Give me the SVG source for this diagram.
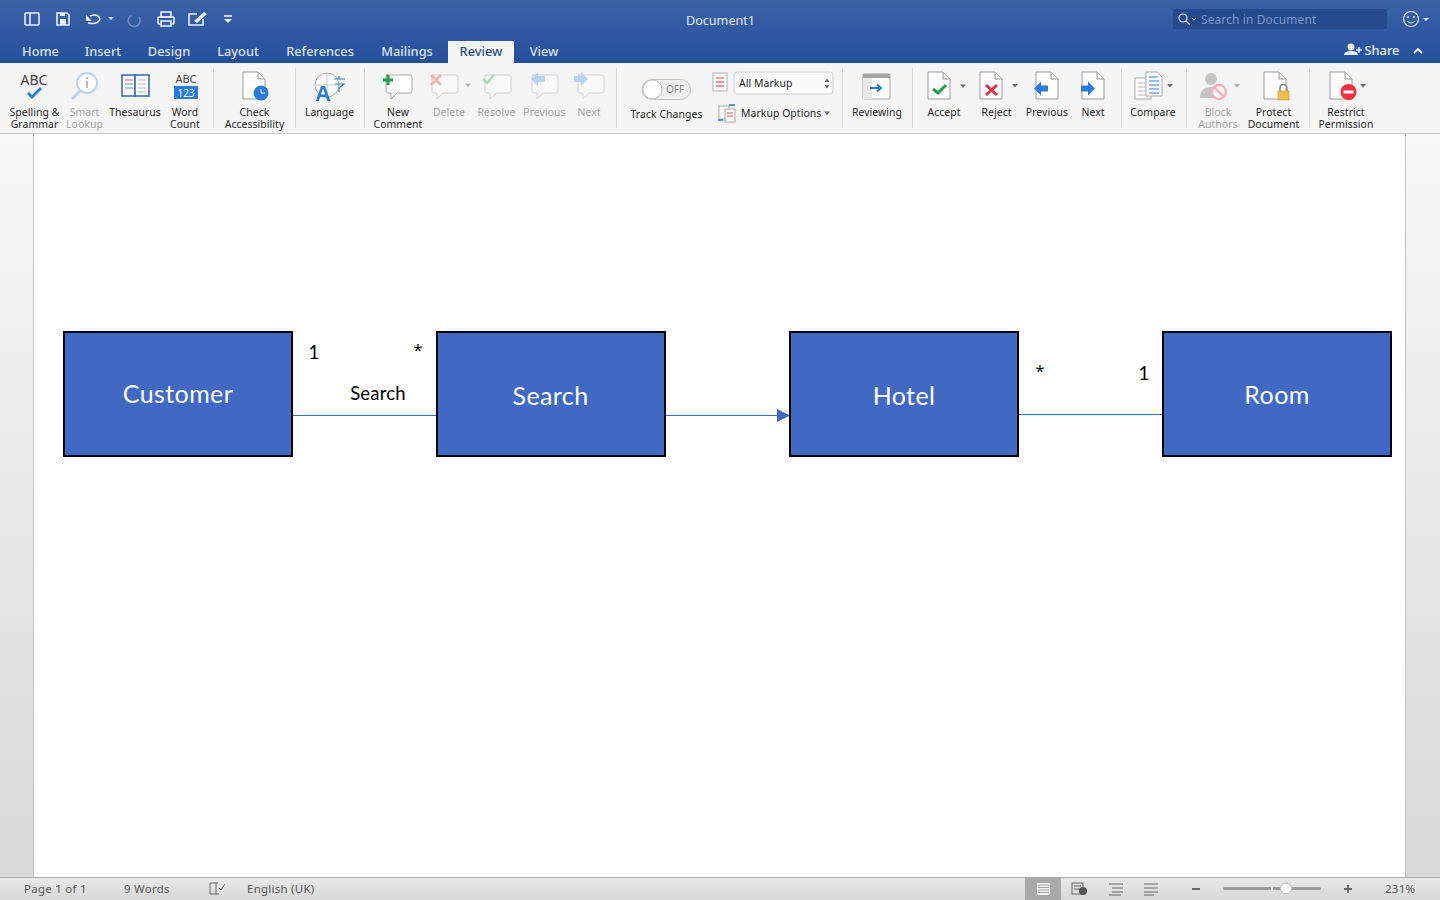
<svg xmlns="http://www.w3.org/2000/svg" width="1440" height="900" viewBox="0 0 1440 900">
<defs>
<linearGradient id="title" x1="0" y1="0" x2="0" y2="1"><stop offset="0" stop-color="#3a63a8"/><stop offset="1" stop-color="#264f9b"/></linearGradient>
<linearGradient id="status" x1="0" y1="0" x2="0" y2="1"><stop offset="0" stop-color="#e8e8e8"/><stop offset="1" stop-color="#d8d8d8"/></linearGradient>
<linearGradient id="side" x1="0" y1="0" x2="0" y2="1"><stop offset="0" stop-color="#f8f8f8"/><stop offset="1" stop-color="#d8d8d8"/></linearGradient>
<g id="page"><path d="M-11 -13.500H4L11 -6.500V13.500H-11Z" fill="#fff" stroke="#9a9a9a" stroke-width="1"/><path d="M4 -13.500V-6.500H11" fill="#f0f0f0" stroke="#9a9a9a" stroke-width="1"/></g>
<path id="bubble" d="M-13 -10H11Q13 -10 13 -8V6Q13 8 11 8H-2L-8 14V8H-11Q-13 8 -13 6V-8Q-13 -10 -11 -10Z" fill="#fff" stroke="#a8a8a8" stroke-width="1"/>
<path id="arrowR" d="M-7 -3H0V-7L7 0L0 7V3H-7Z"/>
<path id="arrowL" d="M7 -3H0V-7L-7 0L0 7V3H7Z"/>
<path id="caret" d="M-3 -1.500H3L0 2Z" fill="#6a6a6a"/>
</defs>
<style>
.rb{font-family:"Noto Sans","Open Sans","Liberation Sans",sans-serif;font-size:10.4px;letter-spacing:.08px;fill:#1f1f1f;text-anchor:middle}
.dis{fill:#a3a3a3}
.tab{font-family:"Noto Sans","Open Sans","Liberation Sans",sans-serif;font-size:12.8px;font-weight:500;fill:#d9e2f2;text-anchor:middle}
.st{font-family:"Noto Sans","Open Sans","Liberation Sans",sans-serif;font-size:11.4px;letter-spacing:.3px;fill:#555}
.box{fill:#4169c4;stroke:#000;stroke-width:2}
.nl{font-family:Lato,"Open Sans","Liberation Sans",sans-serif;font-size:25px;letter-spacing:.4px;fill:#fff;text-anchor:middle}
.lb{font-family:Lato,"Open Sans","Liberation Sans",sans-serif;font-size:18.5px;letter-spacing:.2px;fill:#000;text-anchor:middle}
.star{font-family:"Open Sans","Noto Sans","Liberation Sans",sans-serif;font-size:17px;fill:#000;text-anchor:middle}
.conn{stroke:#4169c4;stroke-width:1;fill:none}
.sep{stroke:#d8d8d8;stroke-width:1}
.ic{fill:none;stroke:#e8eefa;stroke-width:1.6}
</style>

<rect width="1440" height="900" fill="#fff"/>
<rect x="0" y="134" width="34" height="744" fill="url(#side)"/>
<rect x="1405" y="134" width="35" height="744" fill="url(#side)"/>
<path d="M33.500 134V878M1405.500 134V878" stroke="#c4c4c4" stroke-width="1"/>

<g id="titlebar">
<rect width="1440" height="63" fill="url(#title)"/>
<g class="ic">
<rect x="25" y="13" width="14" height="12" rx="1"/><path d="M30 13V25"/>
<path d="M57 13H67L69 15V25H57Z"/><rect x="60" y="19" width="6" height="6" fill="#e8eefa" stroke="none"/><rect x="60" y="13" width="5" height="3" fill="#e8eefa" stroke="none"/>
<path d="M88 23Q98 25 100 19Q98 13 90 16"/><path d="M86 15V21H92Z" fill="#e8eefa" stroke="none"/>
<path d="M132 15A6 6 0 1 0 139 17" stroke="#6f8cbf"/>
<rect x="161" y="12" width="10" height="5"/><rect x="158" y="17" width="16" height="7" rx="1"/><rect x="161" y="21" width="10" height="5" fill="#3a63a8"/>
<path d="M197 14H189V25H203V19"/><path d="M194 21L204 12L207 14L197 23Z" fill="#e8eefa" stroke="none"/>
<path d="M224 16H232"/><path d="M224 19H232L228 23Z" fill="#e8eefa" stroke="none"/>
</g>
<path d="M108 17H114L111 20Z" fill="#d6e0f2"/>
<text x="720.500" y="25" font-family="Noto Sans,Open Sans,sans-serif" font-size="12.600" fill="#e4ebf7" text-anchor="middle">Document1</text>
<rect x="1173" y="9" width="214" height="20" rx="2" fill="#244a8d"/>
<circle cx="1183" cy="18" r="4" fill="none" stroke="#dfe7f5" stroke-width="1.200"/><path d="M1186 21L1190 25" stroke="#dfe7f5" stroke-width="1.200"/><path d="M1192 18L1194 20L1196 18" fill="none" stroke="#dfe7f5"/>
<text x="1201" y="24" font-family="Noto Sans,Open Sans,sans-serif" font-size="11.800" letter-spacing=".2" fill="#7f9bc9">Search in Document</text>
<circle cx="1411" cy="19" r="7.500" fill="none" stroke="#dfe7f5" stroke-width="1.200"/><circle cx="1408" cy="17" r="1" fill="#dfe7f5"/><circle cx="1414" cy="17" r="1" fill="#dfe7f5"/><path d="M1407 21Q1411 25 1415 21" fill="none" stroke="#dfe7f5"/>
<path d="M1423 18H1429L1426 21Z" fill="#dfe7f5"/>
<rect x="448" y="41" width="66" height="22" fill="#f5f5f5"/>
<text class="tab" x="40.500" y="56">Home</text>
<text class="tab" x="103" y="56">Insert</text>
<text class="tab" x="169" y="56">Design</text>
<text class="tab" x="238" y="56">Layout</text>
<text class="tab" x="320" y="56">References</text>
<text class="tab" x="407" y="56">Mailings</text>
<text class="tab" x="481" y="56" style="fill:#28508f">Review</text>
<text class="tab" x="544" y="56">View</text>
<circle cx="1351" cy="47" r="3.500" fill="#e8eefa"/><path d="M1344 55Q1344 51 1351 51Q1358 51 1358 55Z" fill="#e8eefa"/><path d="M1356 50H1362M1359 47V53" stroke="#e8eefa" stroke-width="1.500"/>
<text class="tab" x="1382" y="55" style="fill:#e8eefa">Share</text>
<path d="M1414 53L1418 49L1422 53" fill="none" stroke="#e8eefa" stroke-width="1.800"/>
</g>

<g id="ribbon">
<rect y="63" width="1440" height="71" fill="#f5f5f5"/>
<path d="M0 133.500H1440" stroke="#c6c6c6"/>
<path class="sep" d="M213.500 68V128M295.500 68V128M364.500 68V128M616.500 68V128M842.500 68V128M912.500 68V128M1121.500 68V128M1186.500 68V128M1309.500 68V128"/>

<text x="34" y="85" text-anchor="middle" font-family="Noto Sans,sans-serif" font-size="14" fill="#444">ABC</text>
<path d="M28 93L32 97L41 88" fill="none" stroke="#2a7bdc" stroke-width="2.800"/>
<text class="rb" x="34.500" y="116">Spelling &amp;</text><text class="rb" x="34.500" y="128">Grammar</text>

<circle cx="87" cy="83" r="10" fill="#fff" stroke="#bcd3ec" stroke-width="2"/><path d="M80 91L72 99" stroke="#bcd3ec" stroke-width="3"/><rect x="86" y="81" width="2" height="7" fill="#bcbcbc"/><rect x="86" y="77" width="2" height="2" fill="#bcbcbc"/>
<text class="rb dis" x="84.500" y="116">Smart</text><text class="rb dis" x="84.500" y="128">Lookup</text>

<path d="M122 75H135V96H122Z" fill="#fff" stroke="#2c66b0" stroke-width="1.500"/><path d="M135 75H149V96H135Z" fill="#fff" stroke="#2c66b0" stroke-width="1.500"/>
<path d="M125 80H133" stroke="#e05050"/><path d="M125 84H133M125 88H133" stroke="#4a8adf"/><path d="M138 80H146M138 84H146M138 88H146M138 92H146" stroke="#b5b5b5"/>
<text class="rb" x="135" y="116">Thesaurus</text>

<text x="186" y="83" text-anchor="middle" font-family="Noto Sans,sans-serif" font-size="11" fill="#444">ABC</text>
<rect x="174" y="86" width="24" height="13" fill="#2a7bdc"/><text x="186" y="96.500" text-anchor="middle" font-family="Noto Sans,sans-serif" font-size="10" fill="#fff">123</text>
<text class="rb" x="185" y="116">Word</text><text class="rb" x="185" y="128">Count</text>

<use href="#page" x="254" y="85.500"/><circle cx="261" cy="93" r="7.500" fill="#2a7bdc"/><path d="M261 89V93H265" stroke="#fff" fill="none"/>
<text class="rb" x="254.500" y="116">Check</text><text class="rb" x="254.500" y="128">Accessibility</text>

<circle cx="327" cy="85" r="12" fill="#fff" stroke="#a8a8a8"/><path d="M315 85H339M327 73V97" stroke="#c8c8c8"/>
<text x="323" y="101" text-anchor="middle" font-family="Liberation Sans,sans-serif" font-size="22" font-weight="bold" fill="#2a7bdc">A</text>
<path d="M334 79H345M339 76V79M335 84H344L339 88V92" fill="none" stroke="#2a7bdc" stroke-width="1.200"/>
<text class="rb" x="329.500" y="116">Language</text>

<use href="#bubble" x="399" y="85"/><path d="M383 80H393M388 75V85" stroke="#1fa24a" stroke-width="3"/>
<text class="rb" x="398" y="116">New</text><text class="rb" x="398" y="128">Comment</text>

<g opacity="0.45"><use href="#bubble" x="445" y="85"/></g><path d="M431 75L441 85M441 75L431 85" stroke="#f0b0b0" stroke-width="2.500"/><use href="#caret" x="468" y="85" opacity="0.5"/>
<text class="rb dis" x="449" y="116">Delete</text>

<g opacity="0.45"><use href="#bubble" x="498" y="85"/></g><path d="M483 79L487 83L494 75" fill="none" stroke="#a8dcb8" stroke-width="2.500"/>
<text class="rb dis" x="496.500" y="116">Resolve</text>

<g opacity="0.45"><use href="#bubble" x="545" y="85"/></g><use href="#arrowL" x="538" y="79" fill="#b8d4f2"/>
<text class="rb dis" x="544.500" y="116">Previous</text>

<g opacity="0.45"><use href="#bubble" x="591" y="85"/></g><use href="#arrowR" x="581" y="79" fill="#b8d4f2"/>
<text class="rb dis" x="589" y="116">Next</text>

<rect x="642" y="79.500" width="48.500" height="20" rx="10" fill="#efefef" stroke="#c2c2c2"/>
<circle cx="652.500" cy="89.500" r="9.500" fill="#fff" stroke="#bdbdbd"/>
<text x="675" y="93" text-anchor="middle" font-family="Noto Sans,sans-serif" font-size="10" fill="#8a8a8a">OFF</text>
<text class="rb" x="666.500" y="117.500">Track Changes</text>

<rect x="713" y="73" width="14" height="18" fill="#fff" stroke="#b0b0b0"/><path d="M716 78H724M716 82H724M716 86H724" stroke="#d44"/>
<rect x="734" y="72" width="99" height="22" rx="3" fill="#fafafa" stroke="#d0d0d0"/>
<text class="rb" x="739" y="87" style="text-anchor:start">All Markup</text>
<path d="M824.500 82L827 78.500L829.500 82ZM824.500 85L827 88.500L829.500 85Z" fill="#666"/>
<rect x="719" y="106" width="10" height="13" fill="#fff" stroke="#a8a8a8"/><rect x="725" y="109" width="10" height="13" fill="#fff" stroke="#a8a8a8"/><path d="M727 113H733M727 116H733" stroke="#d44"/><path d="M729 105H735M718 120H723" stroke="#2a7bdc" stroke-width="1.500"/>
<text class="rb" x="741" y="117" style="text-anchor:start">Markup Options</text>
<use href="#caret" x="827" y="113"/>

<rect x="863" y="74" width="27" height="25" rx="1" fill="#fbfbfb" stroke="#a5a5a5"/><rect x="863" y="74" width="27" height="4" fill="#a5a5a5"/><rect x="863" y="78" width="9" height="21" fill="#e8e8e8"/>
<path d="M870 88H881M877 84.500L881 88L877 91.500" fill="none" stroke="#2a7bdc" stroke-width="2"/>
<text class="rb" x="877" y="116">Reviewing</text>

<use href="#page" x="939" y="85.500"/><path d="M933 89L938 93L946 85" fill="none" stroke="#1fa24a" stroke-width="3"/><use href="#caret" x="963" y="86"/>
<text class="rb" x="944" y="116">Accept</text>

<use href="#page" x="991" y="85.500"/><path d="M986 85L997 95M997 85L986 95" stroke="#dc3545" stroke-width="3"/><use href="#caret" x="1015" y="85.500"/>
<text class="rb" x="996.500" y="116">Reject</text>

<use href="#page" x="1047" y="85.500"/><use href="#arrowL" x="1041" y="88.500" fill="#2a7bdc"/>
<text class="rb" x="1047" y="116">Previous</text>

<use href="#page" x="1093" y="85.500"/><use href="#arrowR" x="1088" y="88.500" fill="#2a7bdc"/>
<text class="rb" x="1093" y="116">Next</text>

<rect x="1135" y="78" width="16" height="21" fill="#fff" stroke="#a8a8a8"/><path d="M1138 83H1148M1138 87H1148M1138 91H1148M1138 95H1148" stroke="#b5b5b5"/>
<path d="M1146 72H1157L1162 77V96H1146Z" fill="#fff" stroke="#a8a8a8"/><path d="M1149 77H1158M1149 81H1159M1149 85H1159M1149 89H1159M1149 93H1159" stroke="#2a7bdc"/>
<use href="#caret" x="1170" y="85.500"/>
<text class="rb" x="1153" y="116">Compare</text>

<circle cx="1211" cy="79" r="6" fill="#c4c4c4"/><path d="M1200 98Q1200 87 1211 87Q1222 87 1222 98Z" fill="#c4c4c4"/>
<circle cx="1219" cy="92" r="7" fill="#fff" stroke="#f2b4b8" stroke-width="2.500"/><path d="M1214 87L1224 97" stroke="#f2b4b8" stroke-width="2.500"/><use href="#caret" x="1237" y="85.500" opacity="0.5"/>
<text class="rb dis" x="1218" y="116">Block</text><text class="rb dis" x="1218" y="128">Authors</text>

<use href="#page" x="1275" y="85.500"/><rect x="1278" y="91" width="11" height="9" fill="#eac04a" stroke="#b08a20" stroke-width="0.500"/><path d="M1280 91V88A3.500 3.500 0 0 1 1287 88V91" fill="none" stroke="#8a8a8a" stroke-width="1.500"/>
<text class="rb" x="1273.500" y="116">Protect</text><text class="rb" x="1273.500" y="128">Document</text>

<use href="#page" x="1341" y="85.500"/><circle cx="1348.500" cy="92" r="8" fill="#ef2f3c"/><rect x="1343.500" y="90.500" width="10" height="3" fill="#fff"/><use href="#caret" x="1363" y="85.500"/>
<text class="rb" x="1346" y="116">Restrict</text><text class="rb" x="1346" y="128">Permission</text>
</g>

<g id="connectors">
<path class="conn" d="M293 415.500H437"/>
<path class="conn" d="M666 415.500H779"/>
<path d="M777 409L790 415.500L777 422Z" fill="#4169c4"/>
<path class="conn" d="M1019 414.500H1163"/>
</g>
<g id="customer"><rect class="box" x="64" y="332" width="228" height="124"/><text class="nl" x="178" y="403">Customer</text></g>
<g id="search"><rect class="box" x="437" y="332" width="228" height="124"/><text class="nl" x="550.500" y="405">Search</text></g>
<g id="hotel"><rect class="box" x="790" y="332" width="228" height="124"/><text class="nl" x="904" y="405">Hotel</text></g>
<g id="room"><rect class="box" x="1163" y="332" width="228" height="124"/><text class="nl" x="1277" y="404">Room</text></g>
<g id="labels">
<text class="lb" x="314" y="359">1</text>
<text class="star" x="418" y="356">*</text>
<text class="lb" x="378" y="400">Search</text>
<text class="star" x="1040" y="377">*</text>
<text class="lb" x="1144" y="380">1</text>
</g>

<g id="statusbar">
<rect y="878" width="1440" height="22" fill="url(#status)"/>
<path d="M0 877.500H1440" stroke="#ababab"/>
<text class="st" x="24" y="893">Page 1 of 1</text>
<text class="st" x="124" y="893">9 Words</text>
<path d="M210 883H216V894H210ZM216 883H218M216 894H219M219 888L221 890L225 884" fill="none" stroke="#666"/>
<text class="st" x="247" y="893">English (UK)</text>
<rect x="1025" y="878" width="36" height="22" fill="#a9a9a9"/>
<rect x="1037" y="883" width="13" height="12" fill="#f4f4f4"/><path d="M1038 885H1049M1038 887.500H1049M1038 890H1049M1038 892.500H1049" stroke="#8a8a8a" stroke-width="0.800"/>
<rect x="1072" y="883" width="11" height="11" fill="none" stroke="#666"/><path d="M1074 886H1081M1074 889H1081" stroke="#666"/><circle cx="1083" cy="891" r="4" fill="#555"/>
<path d="M1109 884H1123M1112 888H1123M1112 892H1123M1109 895H1121" stroke="#666"/>
<path d="M1144 884H1158M1144 888H1158M1144 892H1158M1144 895H1154" stroke="#666"/>
<rect x="1192" y="888" width="8" height="2" fill="#666"/>
<rect x="1223" y="887" width="98" height="3" rx="1.500" fill="#9d9d9d"/><rect x="1271" y="887" width="2" height="3" fill="#eee"/><circle cx="1286" cy="888.500" r="5.500" fill="#fbfbfb" stroke="#bbb"/>
<path d="M1344 889H1352M1348 885V893" stroke="#666" stroke-width="1.800"/>
<text class="st" x="1385" y="893">231%</text>
</g>
</svg>
